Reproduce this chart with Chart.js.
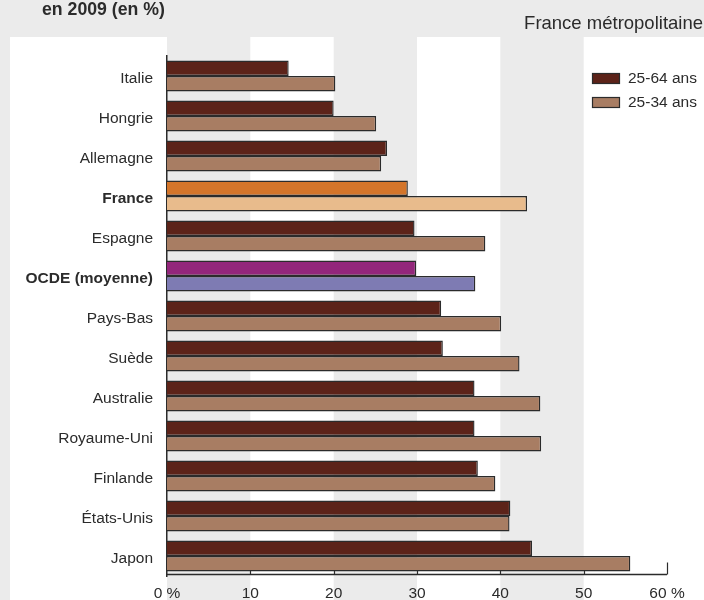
<!DOCTYPE html>
<html>
<head>
<meta charset="utf-8">
<style>
  html, body { margin: 0; padding: 0; background: #ebebeb; }
  #wrap { width: 704px; height: 600px; position: relative; }
</style>
<script src="https://cdn.jsdelivr.net/npm/chart.js@4/dist/chart.umd.min.js"></script>
</head>
<body>
<div id="wrap"><canvas id="c" width="704" height="600"></canvas></div>
<script>
// ---- Data ----
const categories = ["Italie", "Hongrie", "Allemagne", "France", "Espagne", "OCDE (moyenne)", "Pays-Bas", "Suède", "Australie", "Royaume-Uni", "Finlande", "États-Unis", "Japon"];
const age2564 = [14.6, 20.0, 26.4, 28.9, 29.7, 29.9, 32.9, 33.1, 36.9, 36.9, 37.3, 41.2, 43.8];
const age2534 = [20.2, 25.1, 25.7, 43.2, 38.2, 37.0, 40.1, 42.3, 44.8, 44.9, 39.4, 41.1, 55.6];
const seriesLabels = ["25-64 ans", "25-34 ans"];
const xTickLabels = ["0 %", "10", "20", "30", "40", "50", "60 %"];
const boldCategories = ["France", "OCDE (moyenne)"];
const titleText = "en 2009 (en %)";
const subtitleText = "France métropolitaine";

// ---- Styles ----
const colDark = "#5c2319", colLight = "#a87d63";
const colFrDark = "#d4752a", colFrLight = "#e8bb8c";
const colOcdeDark = "#93267b", colOcdeLight = "#7e7bb3";
const textCol = "#2b2b2b";

function hasFont(name) {
  const c = document.createElement('canvas').getContext('2d');
  const s = 'abcdefghijklmnop WMil 0123';
  c.font = '40px monospace';
  const a = c.measureText(s).width;
  c.font = '40px "' + name + '", monospace';
  const b = c.measureText(s).width;
  return Math.abs(a - b) > 0.5;
}
const narrow = hasFont('Liberation Sans Narrow');
const family = narrow ? '"Liberation Sans Narrow", "Liberation Sans", Arial, sans-serif' : '"Liberation Sans", Arial, sans-serif';
const labelSize = narrow ? 18 : 15;

function fitSize(text, weight, target) {
  const c = document.createElement('canvas').getContext('2d');
  c.font = weight + ' 100px ' + family;
  return 100 * target / c.measureText(text).width;
}

function colorsFor(def, fr, oc) {
  return categories.map(c => c === "France" ? fr : (c === "OCDE (moyenne)" ? oc : def));
}

const bgPlugin = {
  id: 'bg',
  beforeDraw(chart) {
    const ctx = chart.ctx, x = chart.scales.x;
    ctx.save();
    ctx.fillStyle = '#ebebeb';
    ctx.fillRect(0, 0, chart.width, chart.height);
    ctx.fillStyle = '#ffffff';
    const top = 37;
    ctx.fillRect(10, top, x.getPixelForValue(0) - 10, chart.height - top);
    [[10, 20], [30, 40]].forEach(([a, b]) => {
      const pa = x.getPixelForValue(a), pb = x.getPixelForValue(b);
      ctx.fillRect(pa, top, pb - pa, chart.height - top);
    });
    const p50 = x.getPixelForValue(50);
    ctx.fillRect(p50, top, chart.width - p50, chart.height - top);
    ctx.restore();
  }
};

const decoPlugin = {
  id: 'deco',
  afterDraw(chart) {
    const ctx = chart.ctx, x = chart.scales.x, area = chart.chartArea;
    ctx.save();
    // x axis line and inward ticks
    const ay = area.bottom - 1.5;
    ctx.strokeStyle = '#2b2b2b';
    ctx.lineWidth = 1.5;
    ctx.beginPath();
    ctx.moveTo(x.getPixelForValue(0), ay);
    ctx.lineTo(x.getPixelForValue(60), ay);
    ctx.stroke();
    ctx.lineWidth = 1.2;
    for (let v = 10; v <= 60; v += 10) {
      const px = Math.round(x.getPixelForValue(v)) + 0.5;
      ctx.beginPath();
      ctx.moveTo(px, ay);
      ctx.lineTo(px, ay - (v === 60 ? 12 : 3.5));
      ctx.stroke();
    }
    // title & subtitle
    ctx.fillStyle = textCol;
    ctx.textBaseline = 'alphabetic';
    ctx.textAlign = 'left';
    ctx.font = 'bold ' + fitSize(titleText, 'bold', 123).toFixed(1) + 'px ' + family;
    ctx.fillText(titleText, 42, 15);
    ctx.textAlign = 'right';
    ctx.font = fitSize(subtitleText, 'normal', 179).toFixed(1) + 'px ' + family;
    ctx.fillText(subtitleText, 703, 29);
    // legend
    ctx.textAlign = 'left';
    ctx.textBaseline = 'middle';
    ctx.font = (labelSize + 0.5) + 'px ' + family;
    chart.data.datasets.forEach((ds, i) => {
      const y = 73 + i * 24;
      ctx.fillStyle = ds.backgroundColor[0];
      ctx.fillRect(592, y, 28, 11);
      ctx.strokeStyle = '#2b2b2b';
      ctx.lineWidth = 1.2;
      ctx.strokeRect(592.5, y + 0.5, 27, 10);
      ctx.fillStyle = textCol;
      ctx.fillText(ds.label, 628, y + 6);
    });
    ctx.restore();
  }
};

new Chart(document.getElementById('c'), {
  type: 'bar',
  data: {
    labels: categories,
    datasets: [
      { label: seriesLabels[0], data: age2564, backgroundColor: colorsFor(colDark, colFrDark, colOcdeDark) },
      { label: seriesLabels[1], data: age2534, backgroundColor: colorsFor(colLight, colFrLight, colOcdeLight) }
    ]
  },
  options: {
    indexAxis: 'y',
    responsive: false,
    animation: false,
    devicePixelRatio: 1,
    layout: { padding: { top: 56, right: 37, bottom: 0, left: 0 } },
    datasets: {
      bar: {
        categoryPercentage: 0.775,
        barPercentage: 1.0,
        borderColor: '#2b2b2b',
        borderWidth: 1.4,
        borderSkipped: 'start'
      }
    },
    plugins: {
      legend: { display: false },
      title: { display: false },
      tooltip: { enabled: false }
    },
    scales: {
      x: {
        type: 'linear',
        min: 0, max: 60,
        afterFit(s) { s.height = 24; },
        grid: { display: false, drawTicks: false },
        border: { display: false },
        ticks: {
          stepSize: 10,
          autoSkip: false,
          maxRotation: 0,
          padding: 8,
          color: textCol,
          font: { family: family, size: labelSize + 0.5 },
          callback: (v, i) => xTickLabels[i]
        }
      },
      y: {
        type: 'category',
        afterFit(s) { s.width = 167; },
        grid: { display: false, drawTicks: false },
        border: { display: true, color: '#2b2b2b', width: 1.5 },
        ticks: {
          padding: 14,
          labelOffset: 3,
          color: textCol,
          autoSkip: false,
          font: (ctx) => ({
            family: family,
            size: labelSize + 0.5,
            weight: boldCategories.includes(categories[ctx.index]) ? 'bold' : 'normal'
          })
        }
      }
    }
  },
  plugins: [bgPlugin, decoPlugin]
});
</script>
</body>
</html>
